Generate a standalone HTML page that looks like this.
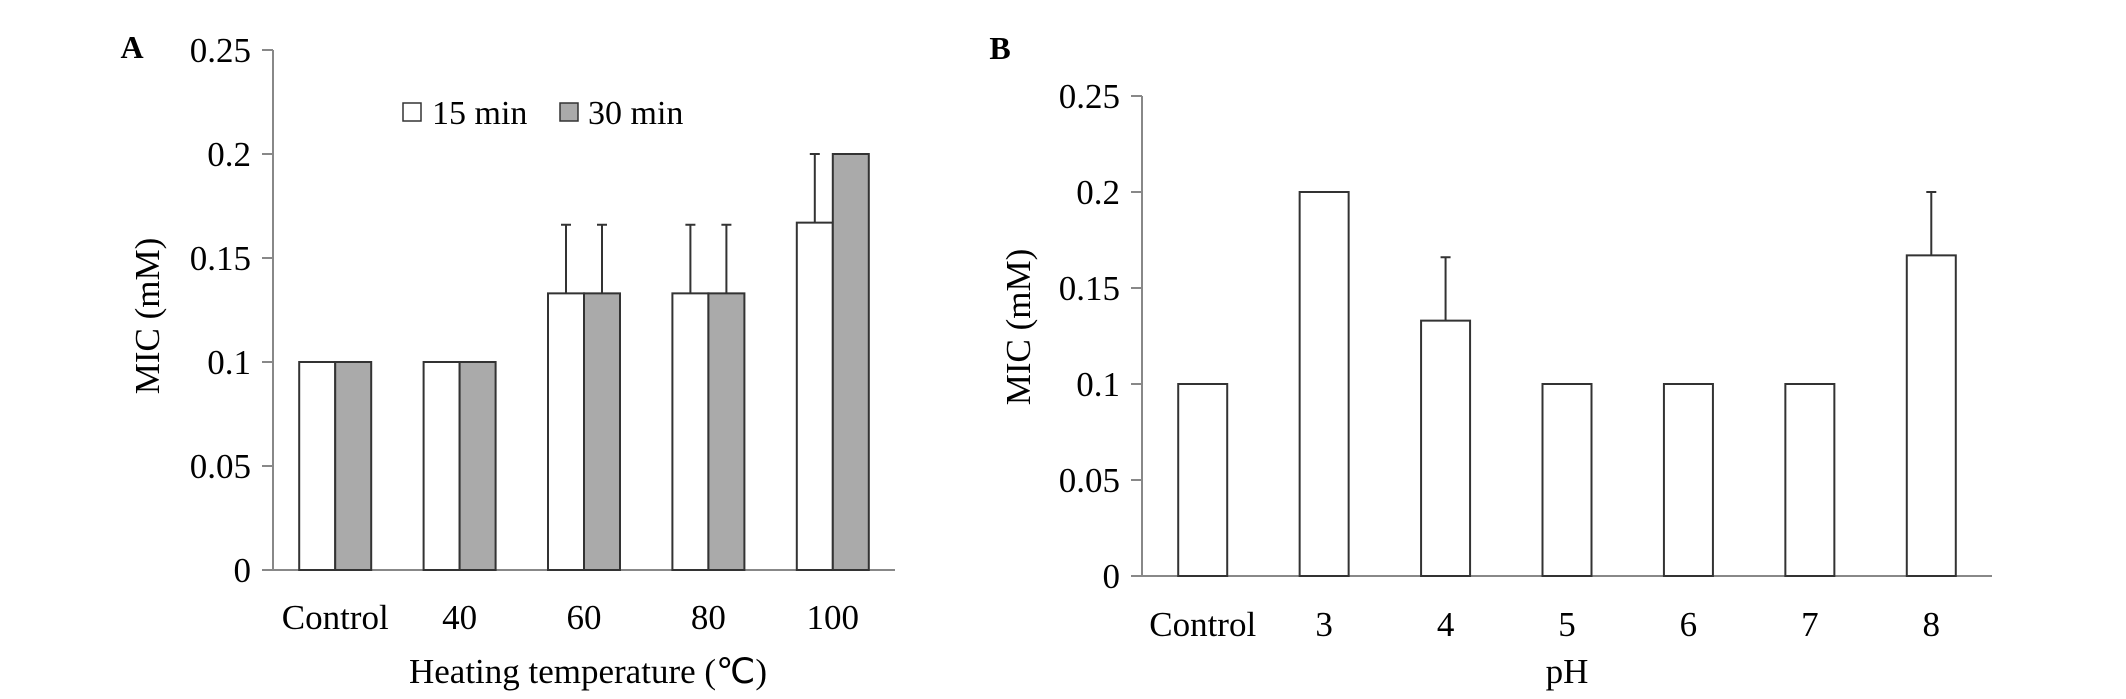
<!DOCTYPE html>
<html><head><meta charset="utf-8"><style>
html,body{margin:0;padding:0;background:#fff;}
svg{display:block;font-family:"Liberation Serif","Times New Roman",serif;}
</style></head><body>
<svg id="fig" width="2126" height="699" viewBox="0 0 2126 699" xmlns="http://www.w3.org/2000/svg">
<text x="132" y="58" font-size="32" font-weight="bold" text-anchor="middle">A</text>
<text x="1000" y="59" font-size="32" font-weight="bold" text-anchor="middle">B</text>
<g id="chartA"></g>
<g id="chartB"></g>
</svg>
<script>
// Panel A data
const catsA = ["Control","40","60","80","100"];
const vals15 = [0.1,0.1,0.133,0.133,0.167];
const err15 = [0,0,0.033,0.033,0.033];
const vals30 = [0.1,0.1,0.133,0.133,0.2];
const err30 = [0,0,0.033,0.033,0];
// Panel B data
const catsB = ["Control","3","4","5","6","7","8"];
const valsB = [0.1,0.2,0.133,0.1,0.1,0.1,0.167];
const errB = [0,0,0.033,0,0,0,0.033];
const yTicks = ["0","0.05","0.1","0.15","0.2","0.25"];

const NS="http://www.w3.org/2000/svg";
function mk(parent,tag,attrs){const e=document.createElementNS(NS,tag);for(const k in attrs)e.setAttribute(k,attrs[k]);parent.appendChild(e);return e;}

function axes(g,x0,x1,y0,y1,ymax,title,xtitle,ytx,yty,xtx,prefix){
  const ys=v=>y0-(v/ymax)*(y0-y1);
  let l=mk(g,'line',{x1:x0,y1:y0,x2:x0,y2:y1,stroke:'#888','stroke-width':2});
  
  
  l=mk(g,'line',{x1:x0,y1:y0,x2:x1,y2:y0,stroke:'#888','stroke-width':2});
  
  
  yTicks.forEach(t=>{
    const y=ys(parseFloat(t));
    const tk=mk(g,'line',{x1:x0-11,y1:y,x2:x0,y2:y,stroke:'#888','stroke-width':2});
    
    
    const tx=mk(g,'text',{x:x0-22,y:y+12,'font-size':35,'text-anchor':'end'});
    tx.textContent=t;
    
    
  });
  const yt=mk(g,'text',{x:0,y:0,'font-size':35,'text-anchor':'middle',transform:`translate(${ytx},${yty}) rotate(-90)`});
  yt.textContent=title;
  
  
  const xt=mk(g,'text',{x:xtx,y:683,'font-size':35,'text-anchor':'middle'});
  xt.textContent=xtitle;
  
  
  return ys;
}
function bar(g,x,w,v,e,ys,fill,name){
  const y0=ys(0),yt=ys(v);
  const r=mk(g,'rect',{x:x,y:yt,width:w,height:y0-yt,fill:fill,stroke:'#333','stroke-width':2});
  
  
  const cx=x+w/2,ye=ys(v+e);
  const eb=mk(g,'path',{d:`M${cx},${yt} V${ye} M${cx-5},${ye} H${cx+5}`,stroke:'#333','stroke-width':2,fill:'none'});
  
  
}
// Chart A
(function(){
  const g=document.getElementById('chartA');
  const x0=273,x1=895,y0=570,y1=50;
  const ys=axes(g,x0,x1,y0,y1,0.25,'MIC (mM)','Heating temperature (\u2103)',159,316,588,'a');
  const band=(x1-x0)/catsA.length, bw=36;
  catsA.forEach((c,i)=>{
    const cx=x0+band*(i+0.5);
    bar(g,cx-bw,bw,vals15[i],err15[i],ys,'#fff','bar-15min-'+c.toLowerCase());
    bar(g,cx,bw,vals30[i],err30[i],ys,'#aaa','bar-30min-'+c.toLowerCase());
    const t=mk(g,'text',{x:cx,y:629,'font-size':35,'text-anchor':'middle'});
    t.textContent=c;
    
    
  });
  const lg=mk(g,'g',{});
  
  
  const s1=mk(lg,'rect',{x:403,y:103,width:18,height:18,fill:'#fff',stroke:'#333','stroke-width':1.5});
  
  
  const t1=mk(lg,'text',{x:432,y:124,'font-size':34});t1.textContent='15 min';
  
  
  const s2=mk(lg,'rect',{x:560,y:103,width:18,height:18,fill:'#aaa',stroke:'#333','stroke-width':1.5});
  
  
  const t2=mk(lg,'text',{x:588,y:124,'font-size':34});t2.textContent='30 min';
  
  
})();
// Chart B
(function(){
  const g=document.getElementById('chartB');
  const x0=1142,x1=1992,y0=576,y1=96;
  const ys=axes(g,x0,x1,y0,y1,0.25,'MIC (mM)','pH',1030,327,1567,'b');
  const band=(x1-x0)/catsB.length, bw=49;
  catsB.forEach((c,i)=>{
    const cx=x0+band*(i+0.5);
    bar(g,cx-bw/2,bw,valsB[i],errB[i],ys,'#fff','bar-ph-'+c.toLowerCase());
    const t=mk(g,'text',{x:cx,y:636,'font-size':35,'text-anchor':'middle'});
    t.textContent=c;
    
    
  });
})();
</script>
</body></html>
